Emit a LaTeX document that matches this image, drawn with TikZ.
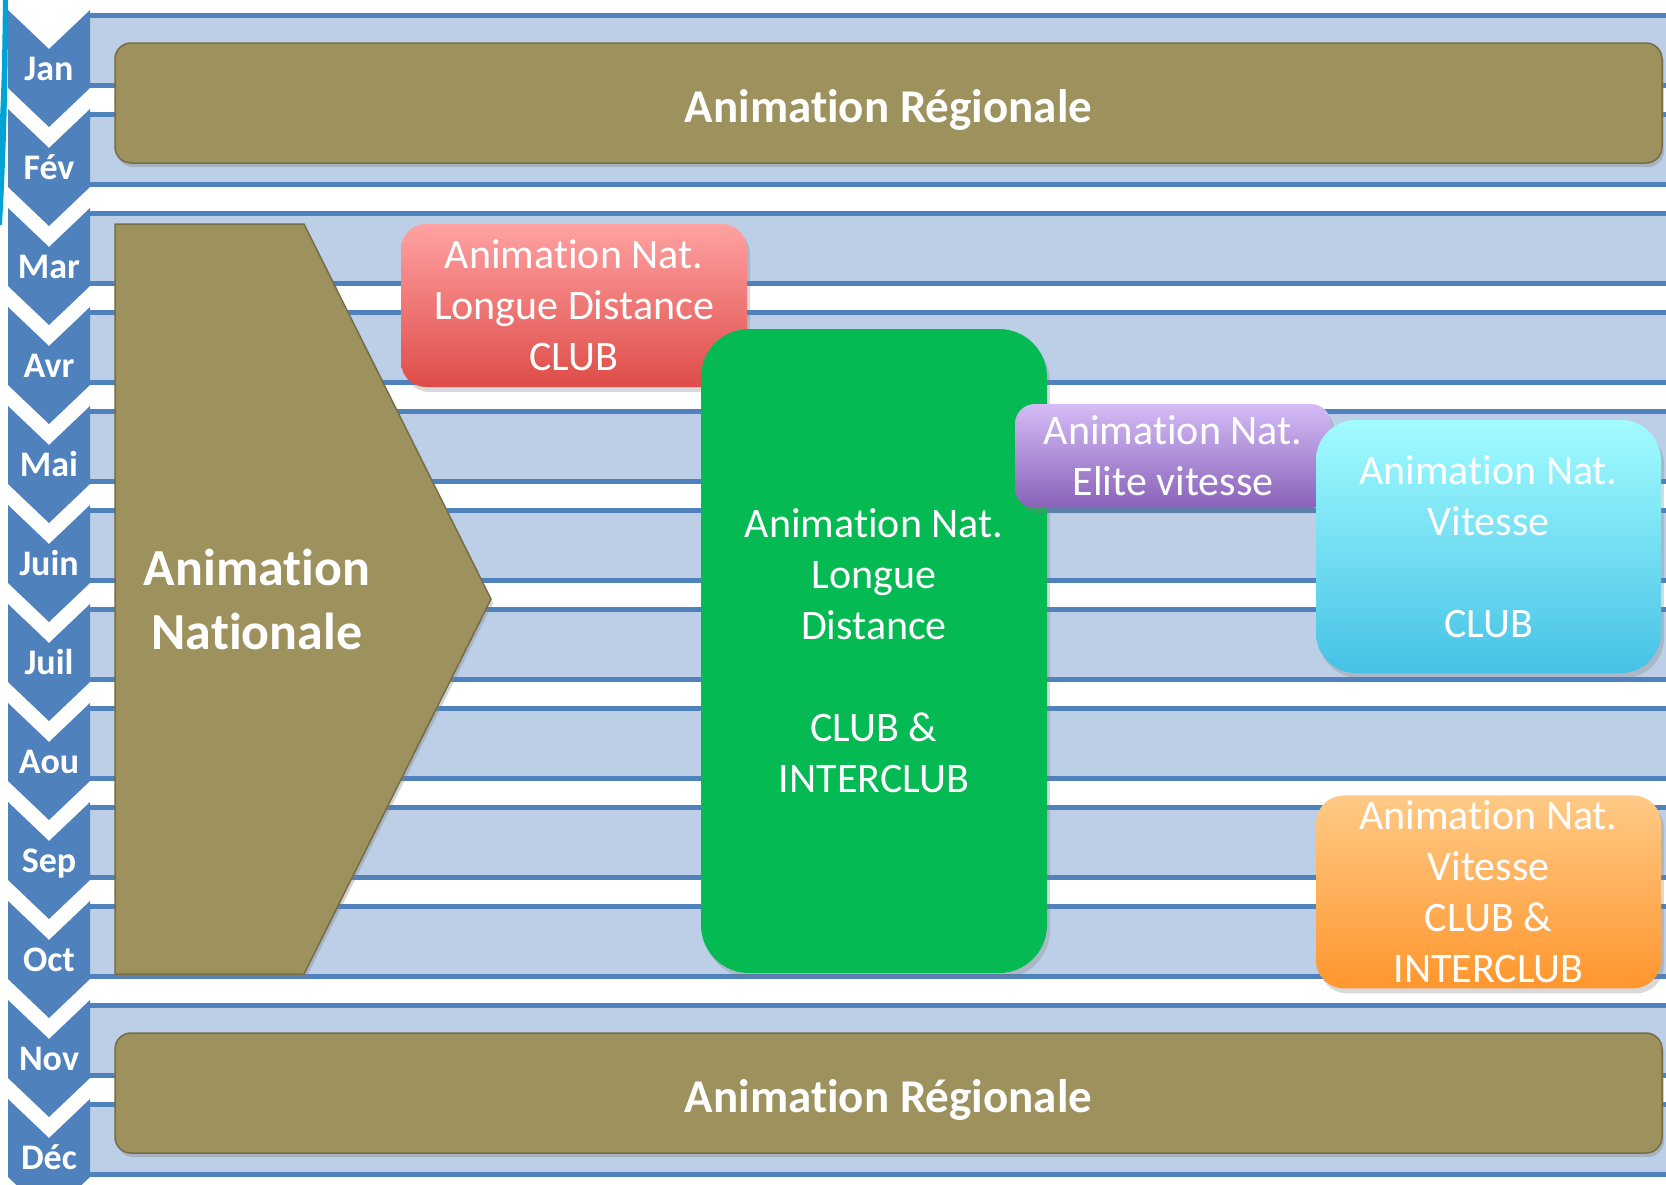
\documentclass[tikz,border=0pt]{standalone}
\usepackage{fontspec}
\setmainfont{Carlito}[Ligatures={NoCommon,NoRequired,NoContextual},RawFeature=-calt]
\usetikzlibrary{positioning,shadows}
\definecolor{monthblue}{RGB}{79,129,189}
\definecolor{bandblue}{RGB}{188,207,230}
\definecolor{olivebox}{RGB}{157,146,94}
\definecolor{clubgreen}{RGB}{5,186,83}
\definecolor{arccyan}{RGB}{0,163,214}
\definecolor{redtop}{RGB}{255,162,162}
\definecolor{redbottom}{RGB}{222,76,72}
\definecolor{purpletop}{RGB}{212,188,246}
\definecolor{purplebottom}{RGB}{136,98,184}
\definecolor{cyantop}{RGB}{162,252,255}
\definecolor{cyanbottom}{RGB}{70,194,230}
\definecolor{orangetop}{RGB}{255,202,134}
\definecolor{orangebottom}{RGB}{255,150,46}
\tikzset{
    band line/.style={draw=monthblue, line width=5pt},
    month tag/.style={text=white, anchor=base,
        font=\bfseries\fontsize{36}{40}\selectfont},
    olive shape/.style={fill=olivebox, draw=olivebox!75!black, line width=1.5pt,
        drop shadow={opacity=0.35, shadow xshift=2pt, shadow yshift=-4pt}},
    event box/.style={rounded corners=#1, text=white, align=center, inner sep=0pt,
        font=\fontsize{42}{51}\selectfont,
        drop shadow={opacity=0.3, shadow xshift=3pt, shadow yshift=-5pt}},
    event box/.default=25pt
}

\begin{document}
\begin{tikzpicture}[x=1pt,y=-1pt]
\tikzstyle{regional}=[olive shape, rounded corners=16pt, minimum width=1547pt,
    minimum height=120pt, text=white, text height=38pt, text depth=0pt,
    font=\bfseries\fontsize{47}{56}\selectfont]

\useasboundingbox (0,0) rectangle (1666,1184);

\fill[arccyan] (3,0) -- (8,0) .. controls (8,100) and (5,170) .. (2,225)
    -- (0,225) -- (0,120) .. controls (2,70) .. (3,0);

\foreach \i in {0,...,11}{
    \fill[bandblue] (90,15.5+99*\i) rectangle (1666,85.5+99*\i);
    \draw[band line] (90,15.5+99*\i) -- (1666,15.5+99*\i)
        (90,85.5+99*\i) -- (1666,85.5+99*\i);
}

\foreach \m [count=\i from 0] in {Jan,Fév,Mar,Avr,Mai,Juin,Juil,Aou,Sep,Oct,Nov,Déc}{
    \fill[monthblue] (8,10+99*\i) -- (49,49+99*\i) -- (90,10+99*\i)
        -- (90,88+99*\i) -- (49,127+99*\i) -- (8,88+99*\i) -- cycle;
    \node[month tag] (month\i) at (49,80+99*\i) {\m};
}

\node[regional] (regtop) at (888.5,103) {Animation Régionale};
\node[regional] (regbottom) at (888.5,1093) {Animation Régionale};

\filldraw[olive shape] (115,224) -- (304,224) -- (491,599) -- (304,974)
    -- (115,974) -- cycle;
\node[text=white, align=center, font=\bfseries\fontsize{52}{64}\selectfont]
    (national) at (257,599) {Animation\\Nationale};

\node[event box, top color=redtop, bottom color=redbottom,
    minimum width=346pt, minimum height=163pt]
    (ldclub) at (574,305.5) {Animation Nat.\\Longue Distance\\CLUB};
\node[event box=48pt, fill=clubgreen, minimum width=346pt, minimum height=644pt]
    (ldinter) at (874,651)
    {Animation Nat.\\Longue\\Distance\\[51pt]CLUB \&\\INTERCLUB};
\node[event box=20pt, top color=purpletop, bottom color=purplebottom,
    minimum width=316pt, minimum height=104pt]
    (elite) at (1173,456) {Animation Nat.\\Elite vitesse};
\node[event box=40pt, top color=cyantop, bottom color=cyanbottom,
    minimum width=345pt, minimum height=253pt]
    (vitclub) at (1488.5,546.5) {Animation Nat.\\Vitesse\\[51pt]CLUB};
\node[event box=28pt, top color=orangetop, bottom color=orangebottom,
    minimum width=345pt, minimum height=193pt, below=122pt of vitclub]
    (vitinter) {Animation Nat.\\Vitesse\\CLUB \&\\INTERCLUB};
\end{tikzpicture}
\end{document}
